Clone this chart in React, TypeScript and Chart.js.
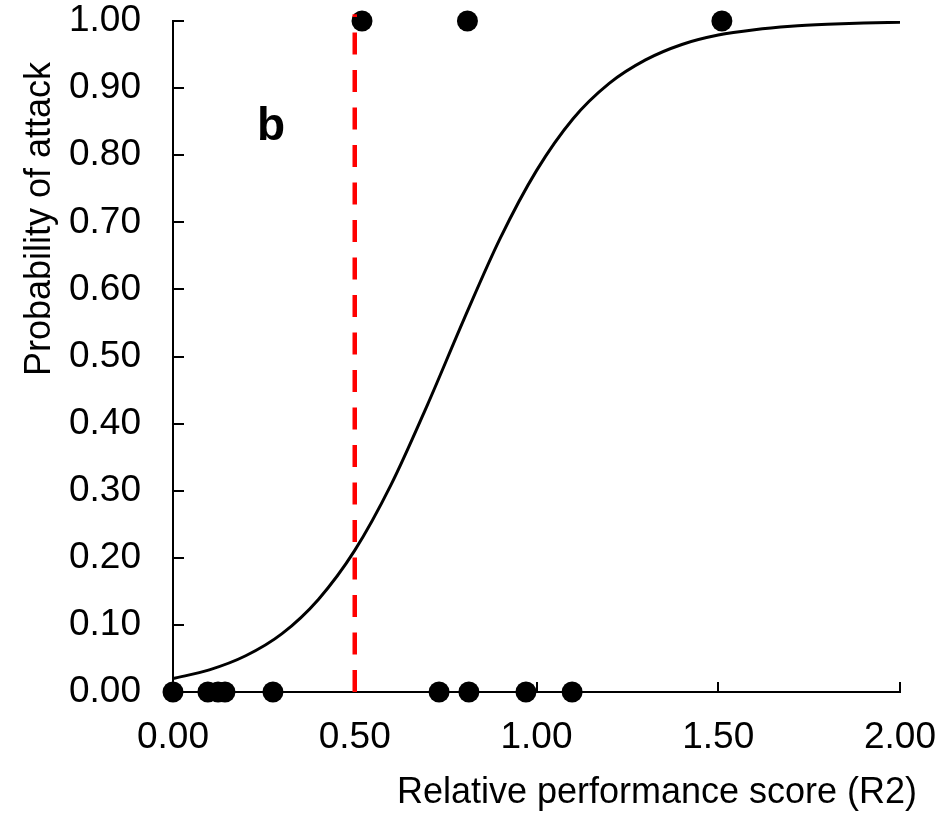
import React, { useEffect, useRef } from "react";
import { Chart, registerables } from "chart.js";

Chart.register(...registerables);

// Logistic fit curve (x = R2, y = probability)
const curveX = [0, 0.1, 0.2, 0.3, 0.4, 0.5, 0.6, 0.7, 0.8, 0.9, 1.0, 1.1, 1.2, 1.3, 1.4, 1.5, 1.6, 1.7, 1.8, 1.9, 2.0];
const curveY = [0.020, 0.033, 0.054, 0.087, 0.138, 0.211, 0.309, 0.428, 0.555, 0.676, 0.777, 0.854, 0.907, 0.942, 0.965, 0.979, 0.987, 0.992, 0.995, 0.997, 0.998];

// Observed outcomes
const attackX = [0.52, 0.81, 1.51];
const attackY = [1, 1, 1];
const noAttackX = [0.0, 0.096, 0.124, 0.143, 0.275, 0.732, 0.814, 0.971, 1.098];
const noAttackY = [0, 0, 0, 0, 0, 0, 0, 0, 0];

// Threshold marker
const thresholdX = [0.5, 0.5];
const thresholdY = [0, 1.01];

const xTicks = [0, 0.5, 1.0, 1.5, 2.0];
const yTicks = [0, 0.1, 0.2, 0.3, 0.4, 0.5, 0.6, 0.7, 0.8, 0.9, 1.0];

const xTitle = "Relative performance score (R2)";
const yTitle = "Probability of attack";
const panelLabel = "b";

const FONT = "'Liberation Sans', Arial, sans-serif";

export default function App() {
  const ref = useRef<HTMLCanvasElement | null>(null);

  useEffect(() => {
    if (!ref.current) return;

    const decor = {
      id: "decor",
      beforeDatasetsDraw(chart: any) {
        const ctx = chart.ctx;
        const xs = chart.scales.x;
        const ys = chart.scales.y;
        const ca = chart.chartArea;
        ctx.save();
        ctx.strokeStyle = "#000";
        ctx.lineWidth = 2;
        ys.ticks.forEach((_t: any, i: number) => {
          const py = Math.round(ys.getPixelForTick(i));
          ctx.beginPath();
          ctx.moveTo(ca.left, py);
          ctx.lineTo(ca.left + 11, py);
          ctx.stroke();
        });
        xs.ticks.forEach((_t: any, i: number) => {
          const px = Math.round(xs.getPixelForTick(i));
          ctx.beginPath();
          ctx.moveTo(px, ca.bottom);
          ctx.lineTo(px, ca.bottom - 10);
          ctx.stroke();
        });
        ctx.restore();
      },
      afterDraw(chart: any) {
        const ctx = chart.ctx;
        ctx.save();
        ctx.fillStyle = "#000";
        ctx.font = `36px ${FONT}`;
        ctx.textBaseline = "alphabetic";
        ctx.textAlign = "center";
        ctx.fillText(xTitle, 657, 803);
        ctx.save();
        ctx.translate(50, 219);
        ctx.rotate(-Math.PI / 2);
        ctx.fillText(yTitle, 0, 0);
        ctx.restore();
        ctx.font = `bold 46px ${FONT}`;
        ctx.textAlign = "left";
        ctx.fillText(panelLabel, 257, 140);
        ctx.restore();
      },
    };

    const chart = new Chart(ref.current, {
      type: "scatter",
      data: {
        datasets: [
          {
            label: "threshold",
            data: thresholdX.map((x, i) => ({ x, y: thresholdY[i] })),
            showLine: true,
            borderColor: "#ff0000",
            borderWidth: 4.5,
            borderDash: [22, 15.5],
            pointRadius: 0,
            order: 0,
            clip: false as any,
          },
          {
            label: "attack",
            data: attackX.map((x, i) => ({ x, y: attackY[i] })),
            backgroundColor: "#000",
            borderWidth: 0,
            pointRadius: 10.5,
            order: 1,
            clip: false as any,
          },
          {
            label: "no attack",
            data: noAttackX.map((x, i) => ({ x, y: noAttackY[i] })),
            backgroundColor: "#000",
            borderWidth: 0,
            pointRadius: 10.5,
            order: 1,
            clip: false as any,
          },
          {
            label: "fit",
            data: curveX.map((x, i) => ({ x, y: curveY[i] })),
            showLine: true,
            borderColor: "#000",
            borderWidth: 3,
            pointRadius: 0,
            cubicInterpolationMode: "monotone",
            order: 2,
          } as any,
        ],
      },
      options: {
        animation: false,
        responsive: false,
        devicePixelRatio: 1,
        layout: { padding: { left: 0, top: 21, right: 39, bottom: 0 } },
        plugins: {
          legend: { display: false },
          tooltip: { enabled: false },
          title: { display: false },
        },
        scales: {
          x: {
            type: "linear",
            min: 0,
            max: 2,
            afterBuildTicks: (s: any) => {
              s.ticks = xTicks.map((v) => ({ value: v }));
            },
            afterFit: (s: any) => {
              s.height = 121;
              s.paddingLeft = 0;
              s.paddingRight = 0;
            },
            grid: { display: true, drawOnChartArea: false, drawTicks: false },
            border: { display: true, color: "#000", width: 2 },
            ticks: {
              color: "#000",
              padding: 27,
              font: { family: FONT, size: 37, lineHeight: 1 },
              maxRotation: 0,
              callback: (v: any) => Number(v).toFixed(2),
            },
          },
          y: {
            type: "linear",
            min: 0,
            max: 1,
            afterBuildTicks: (s: any) => {
              s.ticks = yTicks.map((v) => ({ value: v }));
            },
            afterFit: (s: any) => {
              s.width = 173;
              s.paddingTop = 0;
              s.paddingBottom = 0;
            },
            grid: { display: true, drawOnChartArea: false, drawTicks: false },
            border: { display: true, color: "#000", width: 2 },
            ticks: {
              color: "#000",
              padding: 32,
              font: { family: FONT, size: 37, lineHeight: 1 },
              callback: (v: any) => Number(v).toFixed(2),
            },
          },
        },
      },
      plugins: [decor],
    });

    return () => chart.destroy();
  }, []);

  return (
    <div style={{ position: "absolute", left: 0, top: 0, width: 939, height: 813, background: "#fff" }}>
      <canvas ref={ref} width={939} height={813} style={{ width: 939, height: 813, display: "block" }} />
    </div>
  );
}
